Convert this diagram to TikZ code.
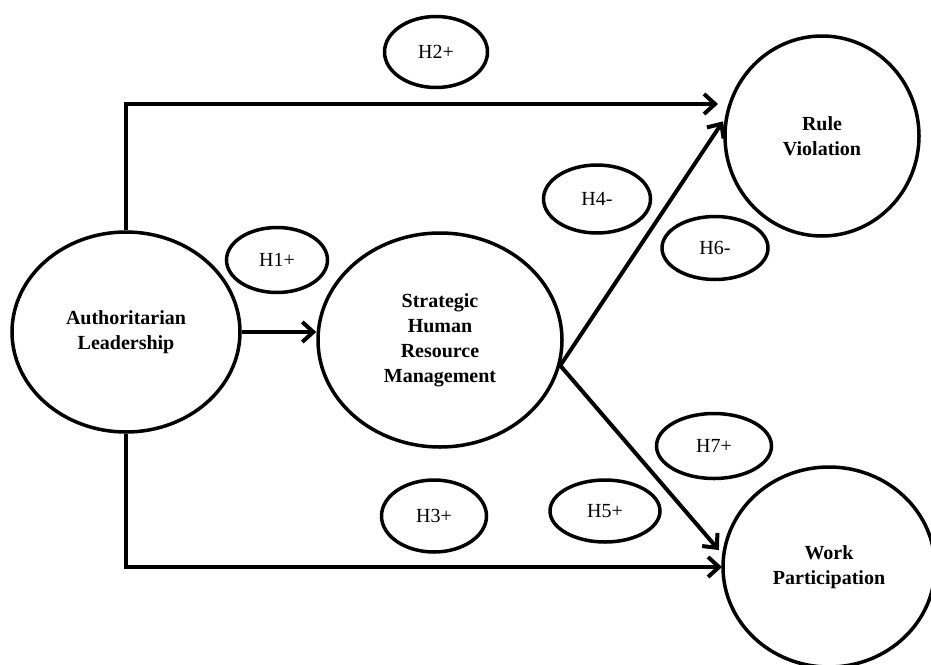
\documentclass[tikz,border=0pt]{standalone}
\usepackage{fontspec}
\setmainfont{Liberation Serif}
\usetikzlibrary{shapes.geometric,arrows.meta}
\begin{document}
\begin{tikzpicture}[x=1pt,y=-1pt,
  construct/.style={ellipse, draw, line width=3.5pt, align=center, inner sep=0pt,
    font=\fontsize{20}{25}\selectfont\bfseries},
  hyp/.style={ellipse, draw, line width=3.5pt, inner sep=0pt,
    font=\fontsize{20}{24}\selectfont},
  arr/.style={line width=4pt, -{Straight Barb[length=11pt,width=20pt]}}]
\useasboundingbox[fill=white] (0,0) rectangle (931,664);

% constructs
\node[construct, minimum width=228pt, minimum height=200pt] (A) at (126,332) {Authoritarian\\Leadership};
\node[construct, minimum width=244pt, minimum height=214pt] (S) at (440,340) {Strategic\\Human\\Resource\\Management};
\node[construct, minimum width=194pt, minimum height=200pt] (R) at (822,136) {Rule\\Violation};
\node[construct, minimum width=212pt, minimum height=200pt] (W) at (829,567) {Work\\Participation};

% hypotheses
\node[hyp, minimum width=103pt, minimum height=71pt] (h2) at (436,52) {H2+};
\node[hyp, minimum width=101pt, minimum height=65pt] (h1) at (277,260) {H1+};
\node[hyp, minimum width=107pt, minimum height=68pt] (h4) at (597,199) {H4-};
\node[hyp, minimum width=106pt, minimum height=63pt] (h6) at (715,248) {H6-};
\node[hyp, minimum width=115pt, minimum height=65pt] (h7) at (714,446) {H7+};
\node[hyp, minimum width=110pt, minimum height=62pt] (h5) at (605,511) {H5+};
\node[hyp, minimum width=105pt, minimum height=72pt] (h3) at (434,516) {H3+};

% free ends
\coordinate (t1) at (718,104);
\coordinate (t2) at (722,567);

% connectors
\draw[arr] (A.north) |- (t1);
\draw[arr] (A.south) |- (t2);
\draw[arr] (A.east) -- (A.east -| S.west);
\draw[arr, shorten >=3pt] (S.-12) -- (R.170);
\draw[arr, shorten >=5pt] (S.-12) -- (W.173);
\end{tikzpicture}
\end{document}
